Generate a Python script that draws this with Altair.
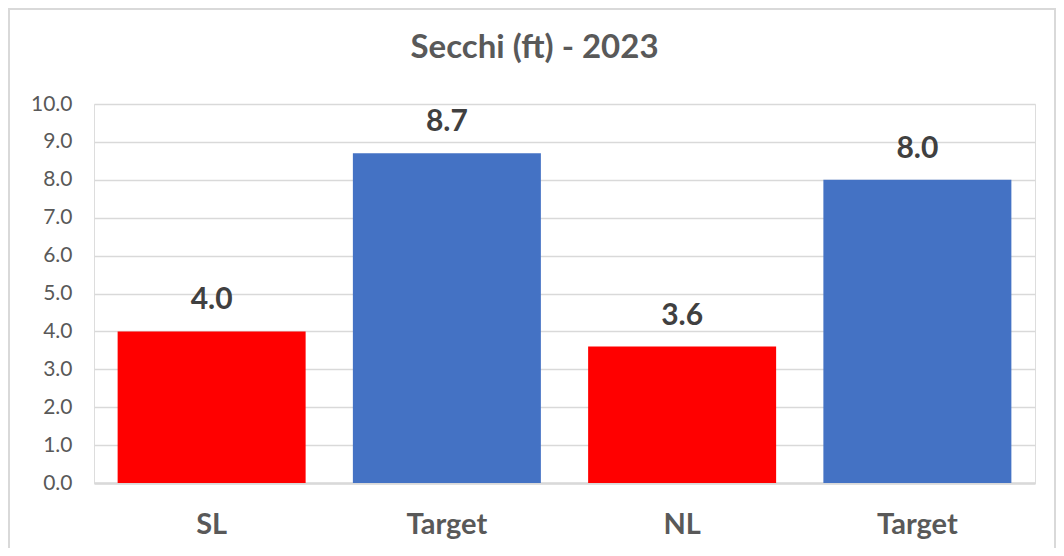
import json
import altair as alt
import pandas as pd

# ---- data ----
categories = ["SL", "Target", "NL", "Target"]
series = ["Measured", "Target", "Measured", "Target"]
values = [4.0, 8.7, 3.6, 8.0]
y_ticks = [0, 1, 2, 3, 4, 5, 6, 7, 8, 9, 10]

df = pd.DataFrame({
    "idx": list(range(len(categories))),
    "category": categories,
    "series": series,
    "value": values,
})

W, H = 941, 379
FONT = "Lato"
GRAY = "#595959"

label_expr = json.dumps(categories) + "[datum.value]"

x_enc = alt.X(
    "idx:O",
    title=None,
    scale=alt.Scale(paddingInner=0.2, paddingOuter=0.1),
    axis=alt.Axis(
        labelExpr=label_expr,
        labelAngle=0,
        labelFont=FONT,
        labelFontSize=29,
        labelFontWeight="bold",
        labelColor=GRAY,
        labelBaseline="alphabetic",
        labelPadding=50,
        ticks=False,
        tickSize=0,
        domain=True,
        domainColor="#d9d9d9",
        domainWidth=2.5,
        grid=False,
    ),
)

y_enc = alt.Y(
    "value:Q",
    title=None,
    scale=alt.Scale(domain=[0, 10], nice=False),
    axis=alt.Axis(
        values=y_ticks,
        tickCount=len(y_ticks),
        format=".1f",
        labelFont=FONT,
        labelFontSize=21,
        labelColor=GRAY,
        labelPadding=22,
        labelOverlap=False,
        ticks=False,
        tickSize=0,
        domain=False,
        grid=True,
        gridColor="#d9d9d9",
        gridWidth=1.5,
    ),
)

base = alt.Chart(df)

bars = base.mark_bar(size=188).encode(
    x=x_enc,
    y=y_enc,
    color=alt.Color(
        "series:N",
        scale=alt.Scale(domain=["Measured", "Target"], range=["#ff0000", "#4472c4"]),
        legend=None,
    ),
)

labels = base.mark_text(
    font=FONT,
    fontSize=30,
    fontWeight="bold",
    color="#404040",
    baseline="alphabetic",
    dy=-22,
).encode(
    x=x_enc,
    y=y_enc,
    text=alt.Text("value:Q", format=".1f"),
)

border = base.mark_rect(
    fill=None, stroke="#d9d9d9", strokeWidth=2, clip=False
).encode(
    x=alt.value(-85),
    x2=alt.value(W + 20),
    y=alt.value(-95),
    y2=alt.value(H + 100),
)

chart = (
    alt.layer(border, bars, labels)
    .properties(
        width=W,
        height=H,
        autosize=alt.AutoSizeParams(type="none"),
        padding={"left": 86, "top": 96, "right": 21, "bottom": 65},
        title=alt.TitleParams(
            text="Secchi (ft) - 2023",
            font=FONT,
            fontSize=33,
            fontWeight="bold",
            color=GRAY,
            anchor="middle",
            baseline="alphabetic",
            dx=-30,
            offset=-83,
        ),
    )
    .configure_view(stroke=None)
    .configure(background="white")
)

chart.save("out.html", embed_options={"renderer": "svg", "actions": False})
